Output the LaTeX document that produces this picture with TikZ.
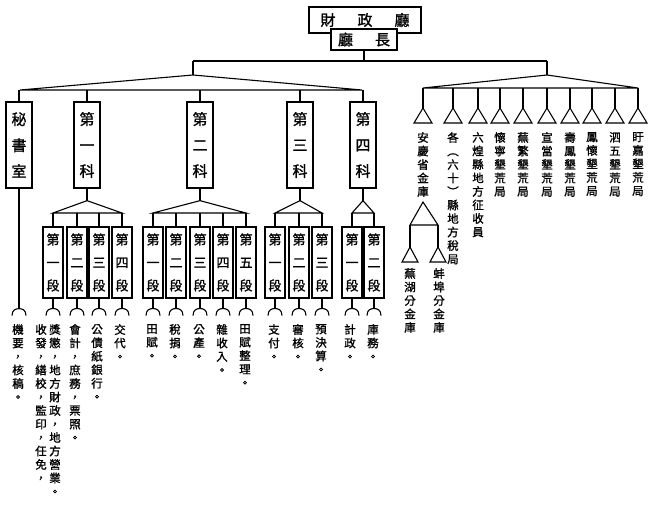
\documentclass[tikz,border=0pt]{standalone}
\usepackage{fontspec}
\newfontfamily\cjk{Noto Sans CJK TC}[FakeBold=1.2]
\usetikzlibrary{calc}
\newcommand\archbelow[2]{%
  \draw[lw] (#1.south) -- ++(0,#2) coordinate (#1-a);
  \draw[lw] ($(#1-a)+(-7,7)$) .. controls ($(#1-a)+(-7,1)$) and ($(#1-a)+(-3,0)$) .. (#1-a)
            .. controls ($(#1-a)+(3,0)$) and ($(#1-a)+(7,1)$) .. ($(#1-a)+(7,7)$);
}
\begin{document}
\begin{tikzpicture}[x=1pt,y=-1pt,
  lw/.style={line width=1.1pt},
  kebox/.style={draw,line width=1.3pt,minimum width=26pt,minimum height=86pt,inner sep=0pt,align=center,font=\cjk\fontsize{15}{26}\selectfont},
  duanbox/.style={draw,line width=1.1pt,minimum width=20pt,minimum height=71pt,inner sep=0pt,align=center,font=\cjk\fontsize{13}{23}\selectfont},
  vt/.style={anchor=north,inner sep=0pt,align=center,font=\cjk\fontsize{11.5}{13.5}\selectfont},
  topbox/.style={draw,line width=1.3pt,fill=white,inner sep=0pt,font=\cjk\fontsize{15}{18}\selectfont},
]
\useasboundingbox (0,0) rectangle (649,505);

% top
\node[topbox,minimum width=112pt,minimum height=26pt] (fin) at (365,20) {財\hspace{22pt}政\hspace{22pt}廳};
\node[topbox,minimum width=66pt,minimum height=21pt] (chief) at (364,39.5) {廳\hspace{22pt}長};

\coordinate (hM) at (364,61);
\coordinate (hL) at (193,61);
\coordinate (hR) at (547,61);
\coordinate (aL) at (193,75);
\coordinate (aR) at (547,75);
\draw[lw] (chief.south) -- (hM);
\draw[lw] (hL) -- (hR);
\draw[lw] (hL) -- (aL);
\draw[lw] (hR) -- (aR);
\draw[lw] (aL) -- (20,90) -- (362,90) -- cycle;
\draw[lw] (aR) -- (423,88) -- (638,88) -- cycle;

% sections
\node[kebox] (mi) at (19,145) {秘\\書\\室};
\node[kebox] (k1) at (87,145) {第\\一\\科};
\node[kebox] (k2) at (200,145) {第\\二\\科};
\node[kebox] (k3) at (300,145) {第\\三\\科};
\node[kebox] (k4) at (363,145) {第\\四\\科};
\foreach \n in {mi,k1,k2,k3,k4} \draw[lw] (\n.north |- 0,90) -- (\n.north);

% sub-sections
\foreach \n/\x/\t in {d11/53/一,d12/77/二,d13/99/三,d14/122/四,
                      d21/153/一,d22/176/二,d23/200/三,d24/223/四,d25/246/五,
                      d31/275/一,d32/299/二,d33/322/三,
                      d41/352/一,d42/374/二}
  \node[duanbox] (\n) at (\x,262.5) {第\\\t\\段};

\foreach \k/\a/\b in {k1/d11/d14,k2/d21/d25,k3/d31/d33,k4/d41/d42}{
  \draw[lw] (\k.south) -- ++(0,12) coordinate (\k-a);
  \draw[lw] (\k-a) -- (\a.north |- 0,213) -- (\b.north |- 0,213) -- cycle;
}
\foreach \n in {d11,d12,d13,d14,d21,d22,d23,d24,d25,d31,d32,d33,d41,d42}{
  \draw[lw] (\n.north |- 0,213) -- (\n.north);
  \archbelow{\n}{10}
}
\archbelow{mi}{120}

% duties
\node[vt] (tmi) at (18,324) {機\\要\\，\\核\\稿\\。};
\node[vt] (t11a) at (41,324) {收\\發\\，\\繕\\校\\，\\監\\印\\，\\任\\免\\，};
\node[vt] (t11b) at (55,324) {獎\\懲\\，\\地\\方\\財\\政\\，\\地\\方\\營\\業\\。};
\node[vt] (t12) at (75,324) {會\\計\\，\\庶\\務\\，\\票\\照\\。};
\node[vt] (t13) at (97,324) {公\\債\\紙\\銀\\行\\。};
\node[vt] (t14) at (120,324) {交\\代\\。};
\node[vt] (t21) at (152,324) {田\\賦\\。};
\node[vt] (t22) at (175,324) {稅\\捐\\。};
\node[vt] (t23) at (199,324) {公\\產\\。};
\node[vt] (t24) at (222,324) {雜\\收\\入\\。};
\node[vt] (t25) at (245,324) {田\\賦\\整\\理\\。};
\node[vt] (t31) at (274,324) {支\\付\\。};
\node[vt] (t32) at (298,324) {審\\核\\。};
\node[vt] (t33) at (321,324) {預\\決\\算\\。};
\node[vt] (t41) at (350,324) {計\\政\\。};
\node[vt] (t42) at (373,324) {庫\\務\\。};

% right group
\foreach \x [count=\i] in {423,453,478,500,523,547,570,592,615,638}{
  \coordinate (tr\i) at (\x,108);
  \draw[lw] (\x,88) -- (tr\i);
  \draw[lw] (tr\i) -- ++(-9,15) -- ++(18,0) -- cycle;
}
\node[vt] (r1) at (423,132) {安\\慶\\省\\金\\庫};
\node[vt] (r2) at (453,132) {各\\︵\\六\\十\\︶\\縣\\地\\方\\稅\\局};
\node[vt] (r3) at (478,132) {六\\煌\\縣\\地\\方\\征\\收\\員};
\node[vt] (r4) at (500,132) {懷\\寧\\墾\\荒\\局};
\node[vt] (r5) at (523,132) {蕪\\繁\\墾\\荒\\局};
\node[vt] (r6) at (547,132) {宣\\當\\墾\\荒\\局};
\node[vt] (r7) at (570,132) {壽\\鳳\\墾\\荒\\局};
\node[vt] (r8) at (592,132) {鳳\\懷\\墾\\荒\\局};
\node[vt] (r9) at (615,132) {泗\\五\\墾\\荒\\局};
\node[vt] (r10) at (638,132) {盱\\嘉\\墾\\荒\\局};

% sub-treasuries
\coordinate (sa) at (423,202);
\coordinate (sl) at (410,225);
\coordinate (sr) at (438,225);
\draw[lw] (sa) -- (sl) -- (sr) -- cycle;
\coordinate (sla) at (410,247);
\coordinate (sra) at (438,247);
\draw[lw] (sl) -- (sla);
\draw[lw] (sr) -- (sra);
\draw[lw] (sla) -- ++(-8,15) -- ++(16,0) -- cycle;
\draw[lw] (sra) -- ++(-8,15) -- ++(16,0) -- cycle;
\node[vt] (s1) at (410,268) {蕪\\湖\\分\\金\\庫};
\node[vt] (s2) at (439,268) {蚌\\埠\\分\\金\\庫};
\end{tikzpicture}
\end{document}
